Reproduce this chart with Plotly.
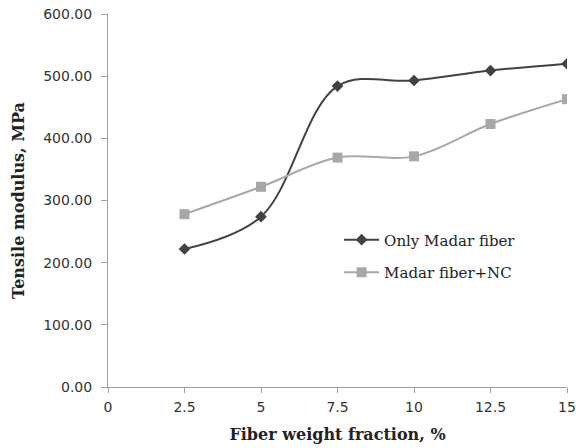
import plotly.graph_objects as go

fiber_fraction = [2.5, 5, 7.5, 10, 12.5, 15]
only_madar = [222, 274, 484, 493, 509, 520]
madar_nc = [278, 322, 369, 371, 423, 463]
x_ticks = [0, 2.5, 5, 7.5, 10, 12.5, 15]
x_tick_labels = ["0", "2.5", "5", "7.5", "10", "12.5", "15"]
y_ticks = [0, 100, 200, 300, 400, 500, 600]

serif = "DejaVu Serif, Liberation Serif, serif"
sans = "DejaVu Sans, Verdana, sans-serif"

fig = go.Figure()
fig.add_trace(go.Scatter(
    x=fiber_fraction, y=only_madar, name="Only Madar fiber",
    mode="lines+markers", line=dict(color="#424242", width=2, shape="spline", smoothing=1.0),
    marker=dict(symbol="diamond", size=9, color="#424242"),
    legendgroup="a",
))
fig.add_trace(go.Scatter(
    x=fiber_fraction, y=madar_nc, name="Madar fiber+NC",
    mode="lines+markers", line=dict(color="#a8a8a8", width=2, shape="spline", smoothing=1.0),
    marker=dict(symbol="square", size=10, color="#a8a8a8"),
    legendgroup="b",
))

fig.update_layout(
    width=576, height=448,
    margin=dict(l=108, r=9, t=14, b=61, autoexpand=False),
    paper_bgcolor="white", plot_bgcolor="white",
    font=dict(family=sans, size=14, color="#333333"),
    showlegend=True,
    legend=dict(x=0.5035, y=0.4385, xanchor="left", yanchor="top",
                font=dict(family=serif, size=15, color="#222222"),
                bgcolor="rgba(0,0,0,0)", tracegroupgap=10, itemwidth=35),
    xaxis=dict(range=[0, 15], tickvals=x_ticks, ticktext=x_tick_labels, automargin=False,
               showgrid=False, zeroline=False, showline=True, linecolor="#a0a0a0",
               linewidth=1, ticks="outside", ticklen=5, tickcolor="#a0a0a0",
               ticklabelstandoff=2, ticklabeloverflow="allow",
               tickfont=dict(family=sans, size=14, color="#333333"),
               title=dict(text="<b>Fiber weight fraction, %</b>",
                          font=dict(family=serif, size=16, color="#222222"), standoff=15)),
    yaxis=dict(range=[0, 600], tickvals=y_ticks, tickformat=".2f", automargin=False,
               showgrid=False, zeroline=False, showline=True, linecolor="#a0a0a0",
               linewidth=1, ticks="outside", ticklen=6, tickcolor="#a0a0a0",
               ticklabelstandoff=6, ticklabeloverflow="allow",
               tickfont=dict(family=sans, size=14, color="#333333"),
               title=dict(text="<b>Tensile modulus, MPa</b>",
                          font=dict(family=serif, size=16, color="#222222"), standoff=14)),
)

fig.write_html("out.html",
               config={"displayModeBar": False},
               post_script="document.body.style.margin='0px';document.body.style.overflow='hidden';")
